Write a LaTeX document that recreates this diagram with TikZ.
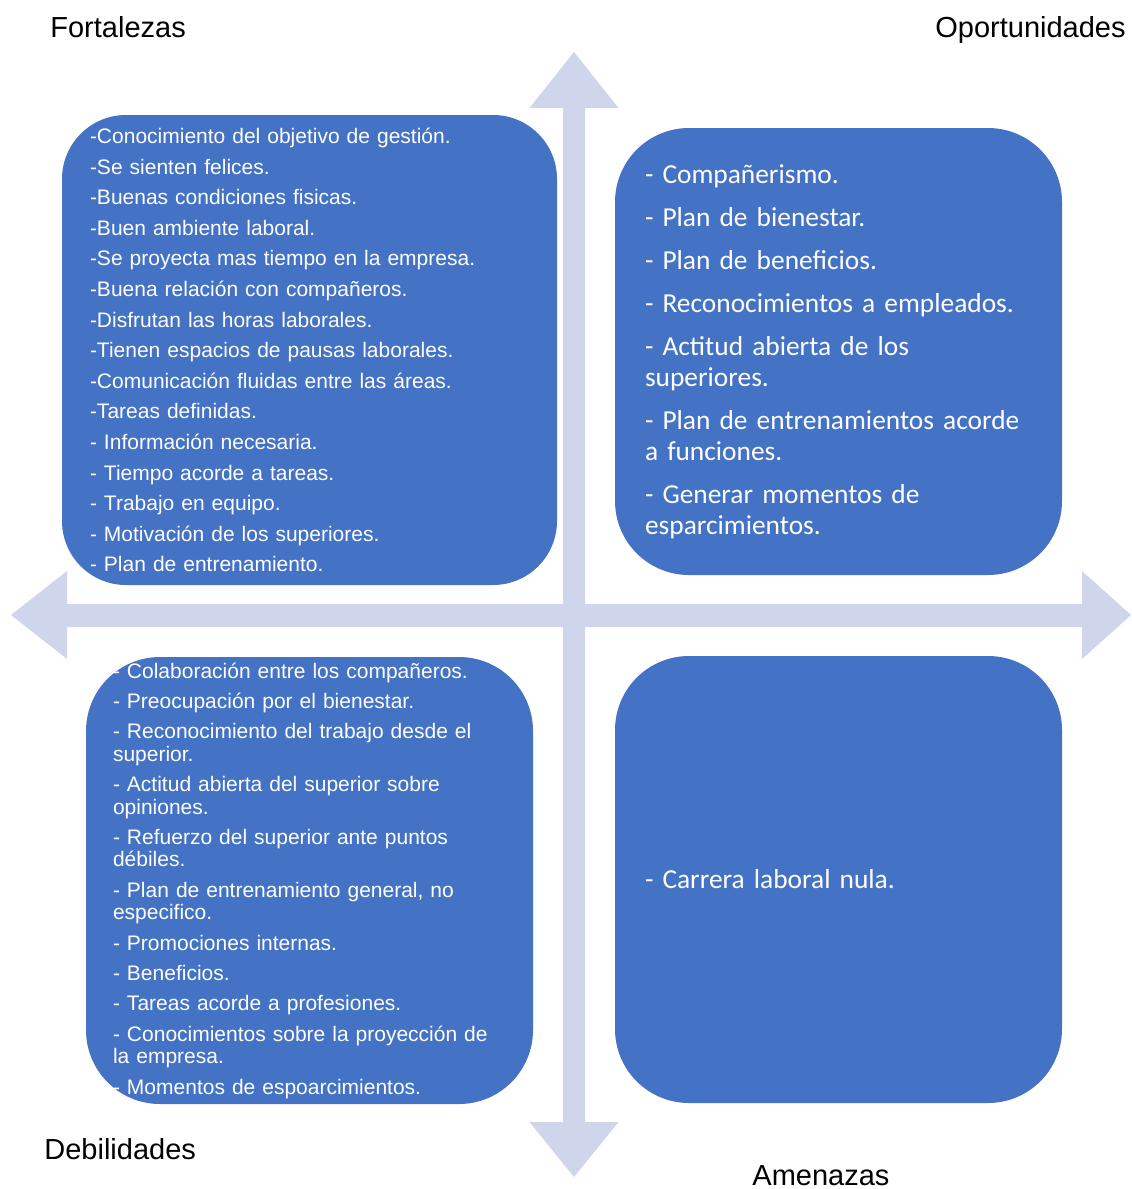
\documentclass[tikz,border=0pt]{standalone}
\usepackage{fontspec}
\setmainfont{Liberation Sans}
\newfontfamily\calibrifont{Carlito}
\definecolor{quadblue}{HTML}{4472C4}
\definecolor{axisgray}{HTML}{CFD5EA}

\begin{document}
\begin{tikzpicture}[x=0.5pt,y=-0.5pt,
  quad/.style={fill=quadblue, text=white, rounded corners=37pt, align=left,
    minimum width=223.5pt, minimum height=223.5pt, inner xsep=15pt, inner ysep=0pt, text width=193.5pt},
  arialtxt/.style={font=\fontsize{10.5}{15.3}\selectfont},
  arialsmall/.style={font=\fontsize{10.5}{11.2}\selectfont},
  calibritxt/.style={font=\calibrifont\fontsize{13.7}{15.5}\selectfont},
  quadtitle/.style={anchor=base west, inner sep=0pt, font=\fontsize{14.5}{17}\selectfont}]
\useasboundingbox (0,0) rectangle (1131,1189);

\fill[axisgray] (574,52) -- (618.5,108) -- (585,108) -- (585,1122) -- (618.5,1122) -- (574,1177)
  -- (529.5,1122) -- (563,1122) -- (563,108) -- (529.5,108) -- cycle;
\fill[axisgray] (11,615) -- (67,571) -- (67,604) -- (1082,604) -- (1082,571) -- (1131,615)
  -- (1082,659) -- (1082,627) -- (67,627) -- (67,659) -- cycle;

\node[quad, arialtxt, minimum width=247.5pt, minimum height=235pt, inner xsep=14pt,
  text width=219.5pt, rounded corners=32pt] (fort) at (309.5,350)
  {-Conocimiento del objetivo de gestión.\\
   -Se sienten felices.\\
   -Buenas condiciones fisicas.\\
   -Buen ambiente laboral.\\
   -Se proyecta mas tiempo en la empresa.\\
   -Buena relación con compañeros.\\
   -Disfrutan las horas laborales.\\
   -Tienen espacios de pausas laborales.\\
   -Comunicación fluidas entre las áreas.\\
   -Tareas definidas.\\
   - Información necesaria.\\
   - Tiempo acorde a tareas.\\
   - Trabajo en equipo.\\
   - Motivación de los superiores.\\
   - Plan de entrenamiento.};

\node[quad, calibritxt] (oport) at (838.5,351.5)
  {- Compañerismo.\\[6pt]
   - Plan de bienestar.\\[6pt]
   - Plan de beneficios.\\[6pt]
   - Reconocimientos a empleados.\\[6pt]
   - Actitud abierta de los\\ superiores.\\[6pt]
   - Plan de entrenamientos acorde\\ a funciones.\\[6pt]
   - Generar momentos de\\ esparcimientos.};

\node[quad, arialsmall, inner xsep=13.5pt, text width=196.5pt] (debil) at (309.5,880.5)
  {- Colaboración entre los compañeros.\\[4pt]
   - Preocupación por el bienestar.\\[4pt]
   - Reconocimiento del trabajo desde el\\ superior.\\[4pt]
   - Actitud abierta del superior sobre\\ opiniones.\\[4pt]
   - Refuerzo del superior ante puntos\\ débiles.\\[4pt]
   - Plan de entrenamiento general, no\\ especifico.\\[4pt]
   - Promociones internas.\\[4pt]
   - Beneficios.\\[4pt]
   - Tareas acorde a profesiones.\\[4pt]
   - Conocimientos sobre la proyección de\\ la empresa.\\[4pt]
   - Momentos de espoarcimientos.};

\node[quad, calibritxt] (amen) at (838.5,879.5) {- Carrera laboral nula.};

\node[quadtitle] (tfort) at (50,37) {Fortalezas};
\node[quadtitle] (toport) at (935,37) {Oportunidades};
\node[quadtitle] (tdebil) at (44,1159) {Debilidades};
\node[quadtitle] (tamen) at (752,1185) {Amenazas};
\end{tikzpicture}
\end{document}
